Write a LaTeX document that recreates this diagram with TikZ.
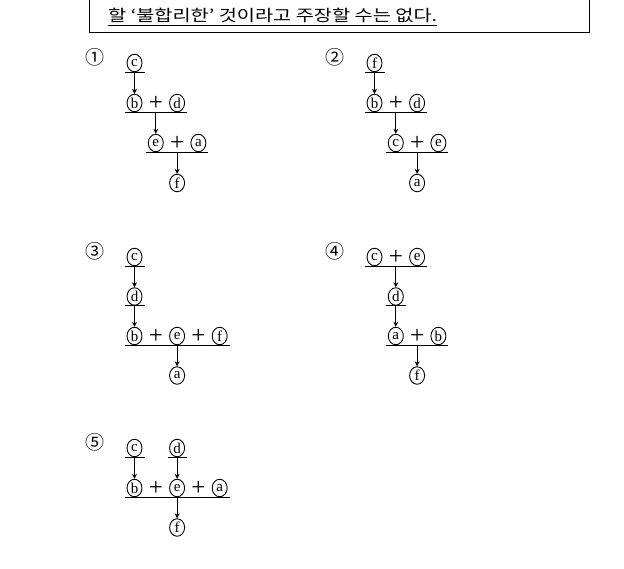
\documentclass[tikz,border=0pt]{standalone}
\usepackage{fontspec}
\setmainfont{Liberation Serif}
\newfontfamily\krfont{Noto Sans CJK KR}
\usetikzlibrary{shapes.geometric,arrows.meta,calc}
\begin{document}
\begin{tikzpicture}[x=1pt,y=-1pt,
  cl/.style={ellipse,draw,line width=0.9pt,minimum width=15pt,minimum height=17.5pt,inner sep=0pt,font=\fontsize{15}{15}\selectfont},
  pl/.style={inner sep=0pt,font=\fontsize{25}{25}\selectfont},
  num/.style={inner sep=0pt,font=\krfont\fontsize{19}{19}\selectfont},
  ul/.style={line width=1pt},
  arr/.style={line width=0.8pt,-{Stealth[length=5pt,width=5pt]}}]
\useasboundingbox (0,0) rectangle (624,568);
% top box
\draw[line width=1pt] (89,-3) -- (89,32) -- (589.5,32) -- (589.5,-3);
\node[anchor=base west,inner sep=0pt,font=\krfont\fontsize{16}{16}\selectfont] (t) at (108,21.5) {\resizebox{329pt}{\height}{할 ‘불합리한’ 것이라고 주장할 수는 없다.}};
\draw[line width=1pt] ($(t.base west)+(0,4)$) -- ($(t.base east)+(0,4)$);

% ---------- 1 ----------
\node[num] (n1) at (94.5,57) {①};
\node[cl] (a1c) at (134.5,63) {c};
\draw[ul] ($(a1c)+(-9.5,9.3)$) -- ($(a1c)+(10,9.3)$);
\coordinate (a1u) at ($(a1c)+(0,9.3)$);
\node[cl] (a1b) at (134.5,103) {b};
\node[pl] (a1p) at (155.8,103) {+};
\node[cl] (a1d) at (177.1,103) {d};
\draw[arr] (a1u) -- (a1b);
\draw[ul] ($(a1b)+(-9.5,9.3)$) -- ($(a1d)+(10,9.3)$);
\coordinate (a1v) at ($(a1p)+(0,9.3)$);
\node[cl] (a1e) at (155.8,143) {e};
\node[pl] (a1q) at (177.1,143) {+};
\node[cl] (a1a) at (198.4,143) {a};
\draw[arr] (a1v) -- (a1e);
\draw[ul] ($(a1e)+(-9.5,9.3)$) -- ($(a1a)+(10,9.3)$);
\coordinate (a1w) at ($(a1q)+(0,9.3)$);
\node[cl] (a1f) at (177.1,183) {f};
\draw[arr] (a1w) -- (a1f);

% ---------- 2 ----------
\node[num] (n2) at (334.5,57) {②};
\node[cl] (a2f) at (374.5,63) {f};
\draw[ul] ($(a2f)+(-9.5,9.3)$) -- ($(a2f)+(10,9.3)$);
\coordinate (a2u) at ($(a2f)+(0,9.3)$);
\node[cl] (a2b) at (374.5,103) {b};
\node[pl] (a2p) at (395.8,103) {+};
\node[cl] (a2d) at (417.1,103) {d};
\draw[arr] (a2u) -- (a2b);
\draw[ul] ($(a2b)+(-9.5,9.3)$) -- ($(a2d)+(10,9.3)$);
\coordinate (a2v) at ($(a2p)+(0,9.3)$);
\node[cl] (a2c) at (395.8,143) {c};
\node[pl] (a2q) at (417.1,143) {+};
\node[cl] (a2e) at (438.4,143) {e};
\draw[arr] (a2v) -- (a2c);
\draw[ul] ($(a2c)+(-9.5,9.3)$) -- ($(a2e)+(10,9.3)$);
\coordinate (a2w) at ($(a2q)+(0,9.3)$);
\node[cl] (a2a) at (417.1,183) {a};
\draw[arr] (a2w) -- (a2a);

% ---------- 3 ----------
\node[num] (n3) at (94.5,251) {③};
\node[cl] (a3c) at (134.5,257) {c};
\draw[ul] ($(a3c)+(-9.5,9.3)$) -- ($(a3c)+(10,9.3)$);
\coordinate (a3u) at ($(a3c)+(0,9.3)$);
\node[cl] (a3d) at (134.5,296.5) {d};
\draw[arr] (a3u) -- (a3d);
\draw[ul] ($(a3d)+(-9.5,9.3)$) -- ($(a3d)+(10,9.3)$);
\coordinate (a3v) at ($(a3d)+(0,9.3)$);
\node[cl] (a3b) at (134.5,336) {b};
\node[pl] (a3p) at (155.8,336) {+};
\node[cl] (a3e) at (177.1,336) {e};
\node[pl] (a3q) at (198.4,336) {+};
\node[cl] (a3f) at (219.7,336) {f};
\draw[arr] (a3v) -- (a3b);
\draw[ul] ($(a3b)+(-9.5,9.3)$) -- ($(a3f)+(10,9.3)$);
\coordinate (a3w) at ($(a3e)+(0,9.3)$);
\node[cl] (a3a) at (177.1,375.5) {a};
\draw[arr] (a3w) -- (a3a);

% ---------- 4 ----------
\node[num] (n4) at (334.5,251) {④};
\node[cl] (a4c) at (374.5,257) {c};
\node[pl] (a4p) at (395.8,257) {+};
\node[cl] (a4e) at (417.1,257) {e};
\draw[ul] ($(a4c)+(-9.5,9.3)$) -- ($(a4e)+(10,9.3)$);
\coordinate (a4u) at ($(a4p)+(0,9.3)$);
\node[cl] (a4d) at (395.8,296.5) {d};
\draw[arr] (a4u) -- (a4d);
\draw[ul] ($(a4d)+(-9.5,9.3)$) -- ($(a4d)+(10,9.3)$);
\coordinate (a4v) at ($(a4d)+(0,9.3)$);
\node[cl] (a4a) at (395.8,336) {a};
\node[pl] (a4q) at (417.1,336) {+};
\node[cl] (a4b) at (438.4,336) {b};
\draw[arr] (a4v) -- (a4a);
\draw[ul] ($(a4a)+(-9.5,9.3)$) -- ($(a4b)+(10,9.3)$);
\coordinate (a4w) at ($(a4q)+(0,9.3)$);
\node[cl] (a4f) at (417.1,375.5) {f};
\draw[arr] (a4w) -- (a4f);

% ---------- 5 ----------
\node[num] (n5) at (94.5,442) {⑤};
\node[cl] (a5c) at (134.5,448) {c};
\node[cl] (a5d) at (177.1,448) {d};
\draw[ul] ($(a5c)+(-9.5,9.3)$) -- ($(a5c)+(10,9.3)$);
\draw[ul] ($(a5d)+(-9.5,9.3)$) -- ($(a5d)+(10,9.3)$);
\coordinate (a5u) at ($(a5c)+(0,9.3)$);
\coordinate (a5x) at ($(a5d)+(0,9.3)$);
\node[cl] (a5b) at (134.5,488) {b};
\node[pl] (a5p) at (155.8,488) {+};
\node[cl] (a5e) at (177.1,488) {e};
\node[pl] (a5q) at (198.4,488) {+};
\node[cl] (a5a) at (219.7,488) {a};
\draw[arr] (a5u) -- (a5b);
\draw[arr] (a5x) -- (a5e);
\draw[ul] ($(a5b)+(-9.5,9.3)$) -- ($(a5a)+(10,9.3)$);
\coordinate (a5w) at ($(a5e)+(0,9.3)$);
\node[cl] (a5f) at (177.1,527.5) {f};
\draw[arr] (a5w) -- (a5f);
\end{tikzpicture}
\end{document}
